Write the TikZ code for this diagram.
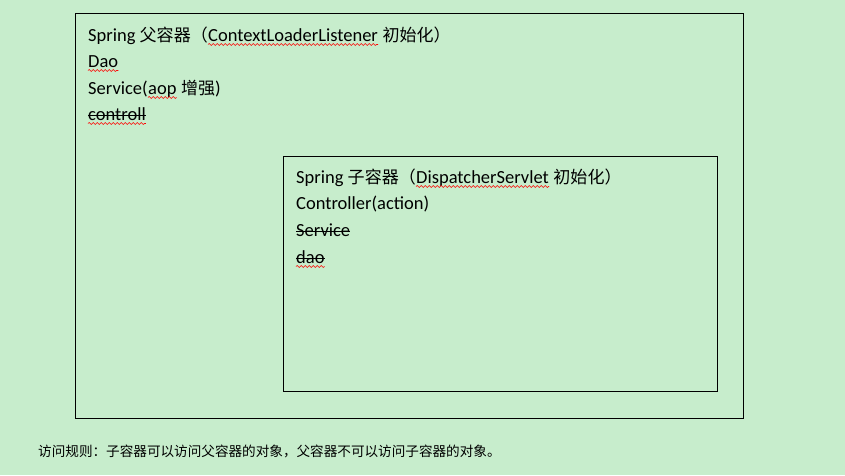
\documentclass[tikz,border=0pt]{standalone}
\usepackage{fontspec}
\setmainfont{Carlito}
\newfontfamily\cjk[Scale=0.92]{Noto Sans CJK SC}
\newfontfamily\cjkb{Noto Sans CJK SC}
\usetikzlibrary{decorations.pathmorphing}
\definecolor{bggreen}{RGB}{199,237,204}
\tikzset{
  txt/.style={anchor=base west, inner sep=0pt, font=\fontsize{18.5}{22}\selectfont},
  box/.style={draw=black, line width=1pt},
  wave/.style={draw=red, line width=0.6pt, decorate, decoration={snake, segment length=4pt, amplitude=1pt}},
  strike/.style={draw=black, line width=1.2pt}
}
\begin{document}
\begin{tikzpicture}[x=1pt,y=-1pt]
\fill[bggreen] (0,0) rectangle (845,475);
\useasboundingbox (0,0) rectangle (845,475);
% outer box
\draw[box] (75.5,13.5) rectangle (743.5,418.5);
% inner box
\draw[box] (283.5,156.5) rectangle (717.5,391.5);

% parent container text
\node[txt] (p1a) at (88,41) {Spring {\cjk 父容器（}};
\node[txt] (p1b) at (p1a.base east) {ContextLoaderListener};
\node[txt] (p1c) at (p1b.base east) {~{\cjk 初始化）}};
\node[txt] (p2) at (88,67) {Dao};
\node[txt] (p3a) at (88,94) {Service(};
\node[txt] (p3b) at (p3a.base east) {aop};
\node[txt] (p3c) at (p3b.base east) {~{\cjk 增强})};
\node[txt] (p4) at (88,120) {controll};

% child container text
\node[txt] (c1a) at (296,183) {Spring {\cjk 子容器（}};
\node[txt] (c1b) at (c1a.base east) {DispatcherServlet};
\node[txt] (c1c) at (c1b.base east) {~{\cjk 初始化）}};
\node[txt] (c2) at (296,209) {Controller(action)};
\node[txt] (c3) at (296,236) {Service};
\node[txt] (c4) at (296,263) {dao};

% spell-check waves
\draw[wave] ([yshift=-3.5]p1b.base west) -- ([yshift=-3.5]p1b.base east);
\draw[wave] ([yshift=-3.5]p2.base west) -- ([yshift=-3.5]p2.base east);
\draw[wave] ([yshift=-3.5]p3b.base west) -- ([yshift=-3.5]p3b.base east);
\draw[wave] ([yshift=-3.5]p4.base west) -- ([yshift=-3.5]p4.base east);
\draw[wave] ([yshift=-3.5]c1b.base west) -- ([yshift=-3.5]c1b.base east);
\draw[wave] ([yshift=-3.5]c4.base west) -- ([yshift=-3.5]c4.base east);

% strike-through
\draw[strike] ([yshift=4.5]p4.base west) -- ([yshift=4.5]p4.base east);
\draw[strike] ([yshift=4.5]c3.base west) -- ([yshift=4.5]c3.base east);
\draw[strike] ([yshift=4.5]c4.base west) -- ([yshift=4.5]c4.base east);

% rule text
\node[anchor=base west, inner sep=0pt, font=\cjkb\fontsize{13.6}{16}\selectfont] (rule) at (38,456)
  {访问规则：子容器可以访问父容器的对象，父容器不可以访问子容器的对象。};
\end{tikzpicture}
\end{document}
